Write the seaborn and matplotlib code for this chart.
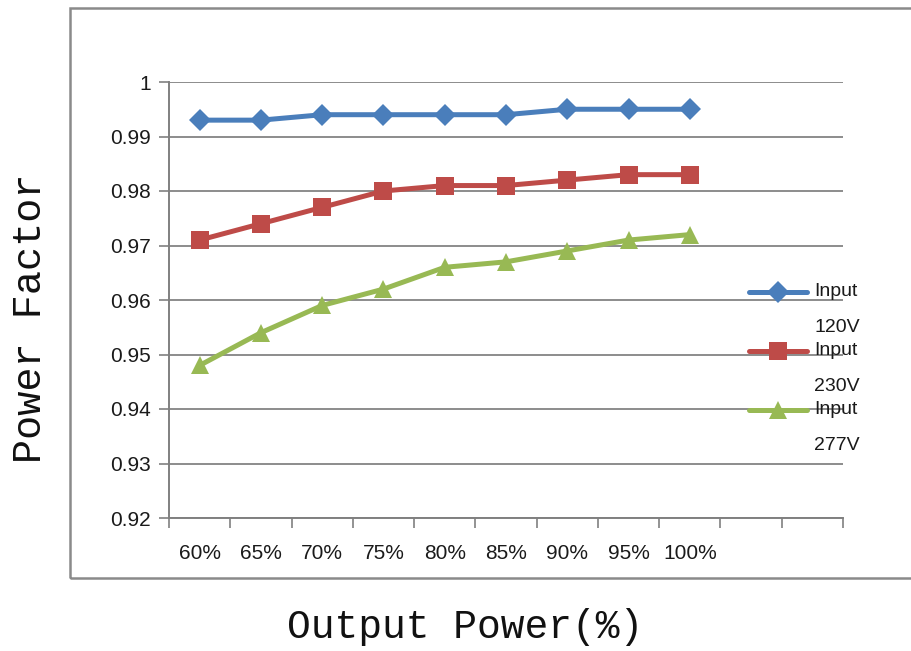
import matplotlib
matplotlib.use("Agg")
import matplotlib.pyplot as plt
import seaborn as sns
import pandas as pd
import numpy as np
from matplotlib.patches import Rectangle
from matplotlib.legend_handler import HandlerLine2D
from matplotlib.transforms import Affine2D

# ---- data ----
categories = ["60%", "65%", "70%", "75%", "80%", "85%", "90%", "95%", "100%"]
n_slots = 11  # two empty category slots on the right (legend space)
pf_120v = [0.993, 0.993, 0.994, 0.994, 0.994, 0.994, 0.995, 0.995, 0.995]
pf_230v = [0.971, 0.974, 0.977, 0.980, 0.981, 0.981, 0.982, 0.983, 0.983]
pf_277v = [0.948, 0.954, 0.959, 0.962, 0.966, 0.967, 0.969, 0.971, 0.972]
series_labels = ["Input\n120V", "Input\n230V", "Input\n277V"]
y_ticks = [0.92, 0.93, 0.94, 0.95, 0.96, 0.97, 0.98, 0.99, 1.00]
y_tick_labels = ["0.92", "0.93", "0.94", "0.95", "0.96", "0.97", "0.98", "0.99", "1"]
x_title = "Output Power(%)"
y_title = "Power Factor"

colors = ["#4a7ebb", "#be4b48", "#98b954"]
markers = ["D", "s", "^"]
msizes = [11, 12.5, 13]


class ShiftedLineHandler(HandlerLine2D):
    """Legend handle drawn level with the first line of a two-line label."""
    def __init__(self, dy=0.0, **kw):
        super().__init__(**kw)
        self.dy = dy

    def create_artists(self, legend, orig_handle, xdescent, ydescent, width, height, fontsize, trans):
        arts = super().create_artists(legend, orig_handle, xdescent, ydescent, width, height, fontsize, trans)
        for a in arts:
            a.set_transform(Affine2D().translate(0, self.dy) + trans)
        return arts


sns.set_theme(style="white")
plt.rcParams["font.family"] = ["Liberation Sans", "DejaVu Sans"]

fig = plt.figure(figsize=(9.11, 6.51), dpi=100)
ax = fig.add_axes([169 / 911, 1 - 518 / 651, (843 - 169) / 911, (518 - 82) / 651])

pos = np.arange(len(categories))
for vals, lab, c, m, ms in zip([pf_120v, pf_230v, pf_277v], series_labels, colors, markers, msizes):
    df = pd.DataFrame({"pos": pos, "pf": vals})
    sns.lineplot(data=df, x="pos", y="pf", ax=ax, color=c, linewidth=3.6,
                 marker=m, markersize=ms, markeredgewidth=0, label=lab, legend=False)

ax.set_xlim(-0.5, n_slots - 0.5)
ax.set_ylim(0.92, 1.0)
ax.set_yticks(y_ticks)
ax.set_yticklabels(y_tick_labels)
ax.set_xticks(np.arange(-0.5, n_slots, 1.0))
ax.set_xticklabels([])
ax.set_xticks(pos, labels=categories, minor=True)
ax.tick_params(axis="x", which="major", length=7, width=1.2, color="#808080", direction="out", bottom=True)
ax.tick_params(axis="x", which="minor", length=0, pad=18.5, labelsize=15, labelcolor="#1a1a1a")
ax.tick_params(axis="y", which="major", length=7, width=1.2, color="#808080", direction="out", left=True,
               labelsize=15, labelcolor="#1a1a1a", pad=6)
ax.set_xlabel("")
ax.set_ylabel("")
ax.grid(axis="y", color="#8c8c8c", linewidth=1.4)
ax.grid(axis="x", visible=False)
for s in ["top", "right"]:
    ax.spines[s].set_visible(False)
for s in ["left", "bottom"]:
    ax.spines[s].set_color("#808080")
    ax.spines[s].set_linewidth(1.4)
ax.set_axisbelow(True)

handles, labels = ax.get_legend_handles_labels()
hmap = {h: ShiftedLineHandler(dy=12.6) for h in handles}
leg = fig.legend(handles, labels, loc="upper left", bbox_to_anchor=(749 / 911, 1 - 283 / 651),
                 frameon=False, fontsize=14, handlelength=3.0, handletextpad=0.35,
                 labelspacing=0.32, borderpad=0, borderaxespad=0, handler_map=hmap)
for t in leg.get_texts():
    t.set_linespacing(2.45)
    t.set_color("#1a1a1a")

# outer chart frame
fig.patches.append(Rectangle((70 / 911, 1 - 578 / 651), 1.0, (578 - 8) / 651,
                             transform=fig.transFigure, fill=False, edgecolor="#8a8a8a",
                             linewidth=1.8, clip_on=False))

fig.text(30 / 911, 1 - 318 / 651, y_title, rotation=90, ha="center", va="center",
         fontsize=29, family=["Liberation Mono", "DejaVu Sans Mono"], color="#111111")
fig.text(465 / 911, 1 - 627 / 651, x_title, ha="center", va="center",
         fontsize=28.5, family=["Liberation Mono", "DejaVu Sans Mono"], color="#111111")

fig.savefig("out.png", dpi=100, facecolor="white")
